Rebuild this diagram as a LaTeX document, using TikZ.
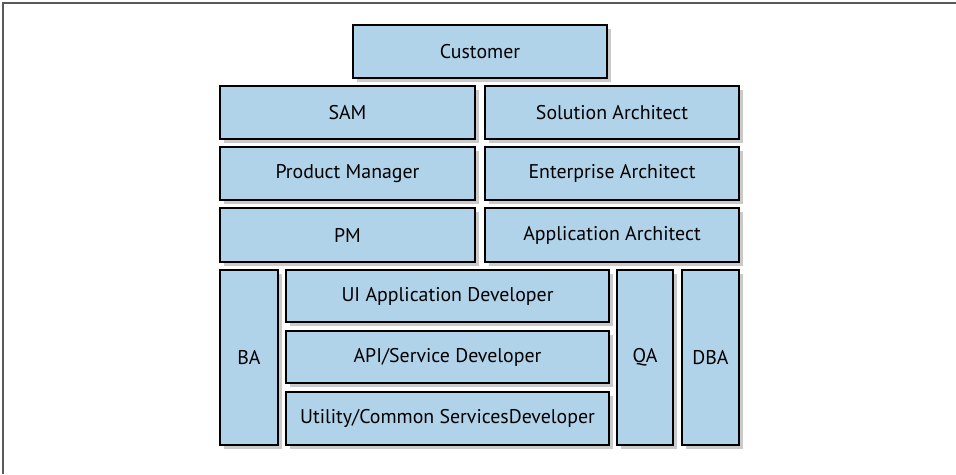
\documentclass[tikz,border=0pt]{standalone}
\usepackage{fontspec}
\setmainfont{PT Sans}
\usetikzlibrary{positioning,shadows}

\definecolor{boxblue}{HTML}{B1D3EA}

\tikzset{
  role/.style={draw=black, line width=1.3pt, fill=boxblue, inner sep=0pt,
    font=\fontsize{11.3}{13}\selectfont,
    drop shadow={shadow xshift=2.5pt, shadow yshift=-2.5pt, opacity=0.35, fill=black!60}},
}

\begin{document}
\begin{tikzpicture}[x=0.02cm, y=-0.02cm]
      % page area and its frame
      \useasboundingbox (0,0) rectangle (956,474);
      \draw[line width=1.2pt, black!65] (3,474) -- (3,3) -- (956,3);

      % Define the rows of roles on top
      \node[role, minimum width=254*0.02cm, minimum height=53*0.02cm] (cust) at (480,51.5) {Customer};
      \node[role, minimum width=255*0.02cm, minimum height=53*0.02cm] (sam) at (347.5,112.5) {SAM};
      \node[role, minimum width=254*0.02cm, minimum height=53*0.02cm] (solarch) at (612,112.5) {Solution Architect};
      \node[role, minimum width=255*0.02cm, minimum height=53*0.02cm] (prodmgr) at (347.5,173.5) {Product Manager};
      \node[role, minimum width=254*0.02cm, minimum height=53*0.02cm] (entarch) at (612,173.5) {Enterprise Architect};
      \node[role, minimum width=255*0.02cm, minimum height=54*0.02cm] (pm) at (347.5,235) {PM};
      \node[role, minimum width=254*0.02cm, minimum height=54*0.02cm] (apparch) at (612,235) {Application Architect};

      % Define the tall columns
      \node[role, minimum width=58*0.02cm, minimum height=175*0.02cm] (ba) at (249,357.5) {BA};
      \node[role, minimum width=56*0.02cm, minimum height=175*0.02cm] (qa) at (645,357.5) {QA};
      \node[role, minimum width=57*0.02cm, minimum height=175*0.02cm] (dba) at (710.5,357.5) {DBA};

      % Define the developer boxes in between
      \node[role, minimum width=323*0.02cm, minimum height=52*0.02cm] (uidev) at (447.5,296) {UI Application Developer};
      \node[role, minimum width=323*0.02cm, minimum height=52*0.02cm] (apidev) at (447.5,357) {API/Service Developer};
      \node[role, minimum width=323*0.02cm, minimum height=53*0.02cm] (utildev) at (447.5,418.5) {Utility/Common ServicesDeveloper};
\end{tikzpicture}
\end{document}
